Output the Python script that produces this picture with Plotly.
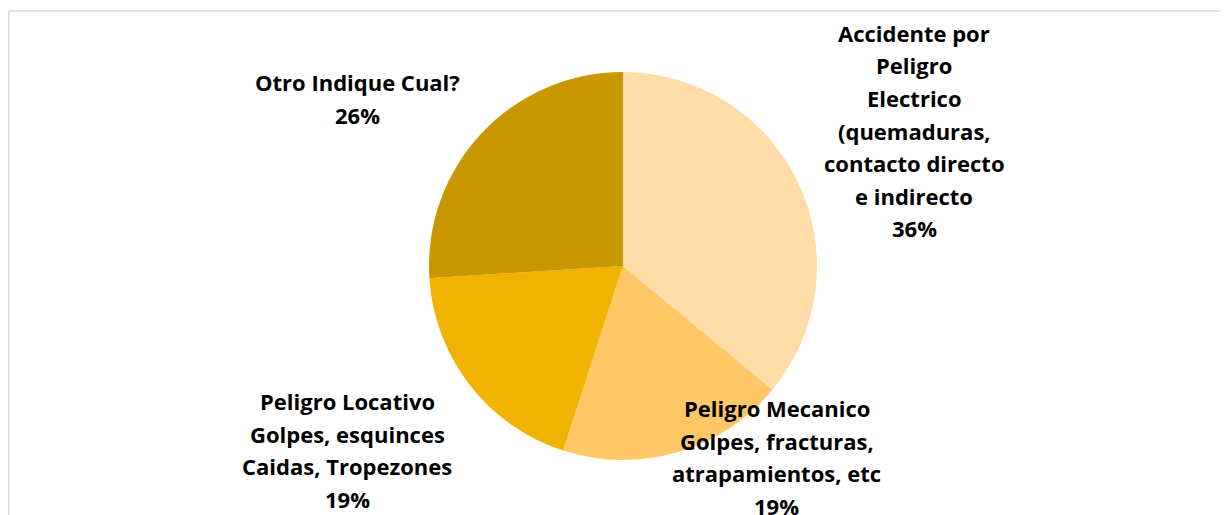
import plotly.graph_objects as go

W, H = 1228, 515
OFF = 8  # page body margin pushes the figure 8px right/down

categories = [
    "Accidente por Peligro Electrico (quemaduras, contacto directo e indirecto",
    "Peligro Mecanico Golpes, fracturas, atrapamientos, etc",
    "Peligro Locativo Golpes, esquinces Caidas, Tropezones",
    "Otro Indique Cual?",
]
percent = [36, 19, 19, 26]
label_lines = [
    ["Accidente por", "Peligro", "Electrico", "(quemaduras,", "contacto directo", "e indirecto"],
    ["Peligro Mecanico", "Golpes, fracturas,", "atrapamientos, etc"],
    ["Peligro Locativo", "Golpes, esquinces", "Caidas, Tropezones"],
    ["Otro Indique Cual?"],
]
colors = ["#FFDCA8", "#FFC866", "#F0B400", "#C99700"]

# label block placement in screen pixels: (center x, first line center y)
label_pos = [(914, 33), (777, 408), (347, 401), (357, 82)]
LINE_H = 32.5

FONT = "Open Sans"


def px_x(x):
    return (x - OFF) / W


def px_y(y):
    return 1 - (y - OFF) / H


fig = go.Figure(
    go.Pie(
        labels=categories,
        values=percent,
        sort=False,
        direction="clockwise",
        rotation=0,
        marker=dict(colors=colors, line=dict(width=0)),
        textinfo="none",
        hoverinfo="label+percent",
        domain=dict(x=[px_x(429), px_x(817)], y=[px_y(460), px_y(72)]),
        showlegend=False,
    )
)

for lines, pct, (cx, cy) in zip(label_lines, percent, label_pos):
    for i, txt in enumerate(lines + [f"{pct}%"]):
        fig.add_annotation(
            x=px_x(cx),
            y=px_y(cy + i * LINE_H),
            xref="paper",
            yref="paper",
            text=f"<b>{txt}</b>",
            showarrow=False,
            xanchor="center",
            yanchor="middle",
            font=dict(family=FONT, size=22, color="#000000"),
        )

# chart area frame: top and left edges (the rest falls outside the crop)
frame = dict(color="#D9D9D9", width=1.5)
fig.add_shape(type="line", xref="paper", yref="paper",
              x0=px_x(8.75), x1=1.05, y0=px_y(11), y1=px_y(11), line=frame)
fig.add_shape(type="line", xref="paper", yref="paper",
              x0=px_x(8.75), x1=px_x(8.75), y0=-0.05, y1=px_y(11), line=frame)

fig.update_layout(
    width=W,
    height=H,
    margin=dict(l=0, r=0, t=0, b=0),
    paper_bgcolor="white",
    plot_bgcolor="white",
    font=dict(family=FONT),
)

fig.write_html("out.html")
